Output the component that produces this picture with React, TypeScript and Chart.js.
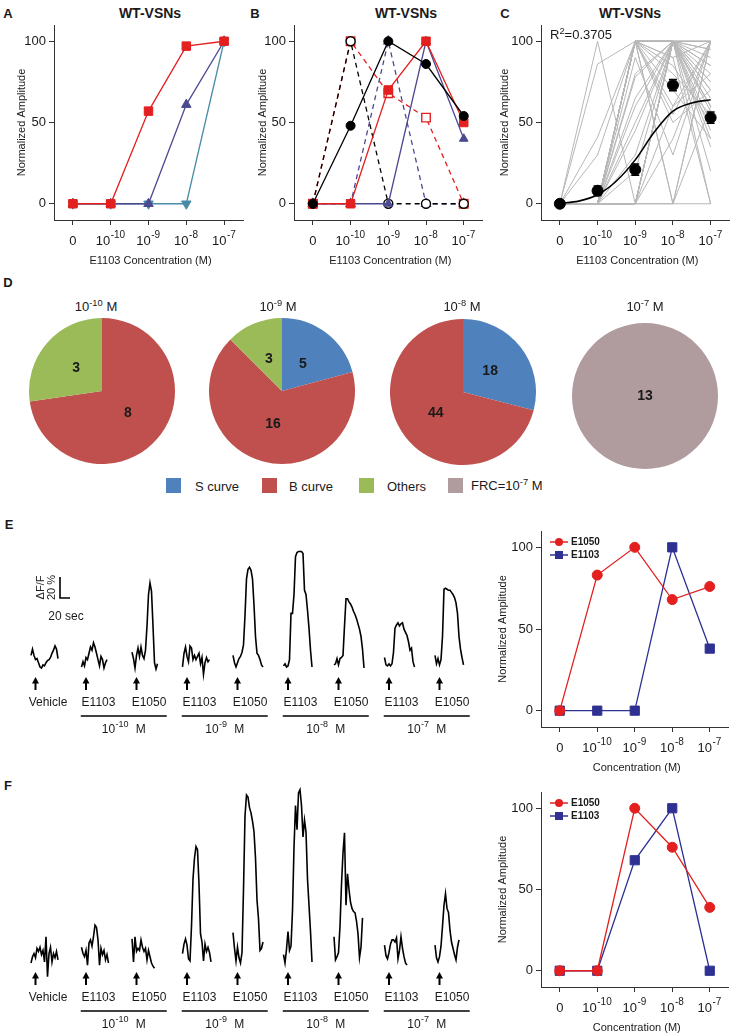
import React, { useEffect, useRef } from 'react';
import { Chart, registerables } from 'chart.js';

Chart.register(...registerables);

if (typeof document !== 'undefined') {
  document.body.style.margin = '0';
}

const FONT = '"Liberation Sans", Arial, Helvetica, sans-serif';
const INK = '#1a1a1a';
const AXIS = '#333333';

// ---------- shared concentration axis ----------
const CONC_IDX = [0, 1, 2, 3, 4];
const CONC_BASE = ['0', '10', '10', '10', '10'];
const CONC_EXP = ['', '-10', '-9', '-8', '-7'];
const Y_TICKS = [0, 50, 100];

// ---------- panel A ----------
const A_RED = [0, 0, 57, 97, 100];
const A_PURPLE = [0, 0, 0, 61, 100];
const A_TEAL = [0, 0, 0, 0, 100];

// ---------- panel B ----------
const B_BLACK_SOLID = [0, 48, 100, 86, 54];
const B_RED_SOLID = [0, 0, 70, 100, 50];
const B_NAVY_SOLID = [0, 0, 0, 100, 40];
const B_BLACK_DASH = [0, 100, 0, 0, 0];
const B_RED_DASH = [0, 100, 68, 53, 0];
const B_NAVY_DASH = [0, 0, 100, 0, 0];

// ---------- panel C ----------
const C_CELLS = [
  [0, 0, 100, 100, 100],
  [0, 0, 100, 100, 80],
  [0, 0, 100, 100, 60],
  [0, 0, 100, 100, 45],
  [0, 0, 100, 80, 55],
  [0, 0, 100, 60, 100],
  [0, 0, 100, 100, 0],
  [0, 0, 100, 0, 100],
  [0, 0, 100, 50, 70],
  [0, 0, 80, 100, 65],
  [0, 0, 78, 100, 95],
  [0, 0, 60, 100, 40],
  [0, 0, 50, 100, 85],
  [0, 0, 30, 100, 100],
  [0, 0, 0, 100, 70],
  [0, 0, 0, 100, 50],
  [0, 0, 0, 100, 35],
  [0, 0, 0, 100, 90],
  [0, 0, 0, 100, 100],
  [0, 0, 0, 100, 20],
  [0, 0, 0, 0, 100],
  [0, 0, 0, 40, 100],
  [0, 0, 0, 60, 80],
  [0, 100, 0, 100, 75],
  [0, 86, 100, 100, 60],
  [0, 41, 100, 85, 50],
  [0, 30, 100, 90, 0],
  [0, 0, 20, 100, 57],
  [0, 0, 100, 70, 40],
  [0, 0, 100, 90, 100],
  [0, 0, 65, 100, 75],
  [0, 0, 90, 30, 100],
  [0, 0, 100, 100, 85],
  [0, 0, 100, 0, 60],
  [0, 0, 45, 100, 100],
  [0, 0, 100, 55, 100],
  [0, 0, 100, 100, 95],
  [0, 0, 100, 100, 70],
  [0, 0, 0, 100, 60],
  [0, 0, 0, 0, 0],
];
const C_MEAN = [0, 8, 21, 73, 53];
const C_SEM = [0.8, 3, 3.5, 3.5, 3.5];
const C_FIT_X = [0, 0.5, 1, 1.5, 2, 2.5, 3, 3.5, 4];
const C_FIT_Y = [0.3, 1.6, 5.5, 14, 27, 44, 57, 62, 64];

// ---------- panel D ----------
const CAT_NAMES = ['S curve', 'B curve', 'Others', 'FRC'];
const CAT_COLORS = ['#4f81bd', '#c0504d', '#9bbb59', '#b09b9f'];
const PIE1_LABELS = ['B curve', 'Others'];
const PIE1_VALUES = [8, 3];
const PIE2_LABELS = ['S curve', 'B curve', 'Others'];
const PIE2_VALUES = [5, 16, 3];
const PIE3_LABELS = ['S curve', 'B curve'];
const PIE3_VALUES = [18, 44];
const PIE4_LABELS = ['FRC'];
const PIE4_VALUES = [13];
const PIE_TITLE_EXP = ['-10', '-9', '-8', '-7'];

// ---------- panels E / F : calcium traces (ΔF/F, %) sampled every 3 s ----------
const TRACE_NAMES = ['Vehicle', 'E1103', 'E1050', 'E1103', 'E1050', 'E1103', 'E1050', 'E1103', 'E1050'];
const GROUP_EXP = ['-10', '-9', '-8', '-7'];

const E_VEHICLE = [12, 18, 12, 8, 9, 5, 1, 0, 3, 2, 5, 7, 8, 10, 14, 17, 21, 18, 9];
const E_E1103_10 = [1, 6, 2, 10, 8, 14, 20, 17, 24, 20, 14, 8, 2, 11, 8, 0, 5, 8];
const E_E1050_10 = [15, 9, 0, 12, 19, 11, 20, 12, 9, 17, 40, 70, 81, 73, 40, 5, -1, 4];
const E_E1103_9 = [1, 14, 20, 11, 6, 21, 19, 8, 12, 8, 11, 14, 4, 10, -6, 5, 10, 6, 8];
const E_E1050_9 = [12, 5, 1, 5, 9, 11, 15, 22, 50, 85, 94, 96, 93, 85, 60, 30, 14, 12, 8, 3, 1];
const E_E1103_8 = [2, 4, 1, 2, 8, 52, 52, 70, 106, 110, 111, 111, 111, 109, 74, 70, 55, 38, 17, 1];
const E_E1050_8 = [3, 4, 9, 3, 9, 10, 12, 40, 66, 66, 63, 61, 58, 54, 51, 47, 42, 37, 30, 18, 0];
const E_E1103_7 = [10, 3, 2, 4, 2, 4, 15, 38, 41, 43, 40, 42, 43, 37, 34, 31, 25, 17, 19, 6, 1];
const E_E1050_7 = [12, 4, 9, 3, 8, 30, 75, 76, 75, 74, 74, 72, 70, 67, 62, 52, 30, 18, 10, 3];

const F_VEHICLE = [0, 6, 9, 5, 14, 11, 15, 8, 12, 1, 25, -13, 9, 15, 1, 9, 5, 11, 3];
const F_E1103_10 = [15, 9, 6, 12, -2, 19, 22, 16, 25, 36, 34, 22, -2, 14, 8, 12, 3, 8, 0];
const F_E1050_10 = [23, 1, 25, 11, 14, 12, 22, 15, 11, 14, 3, 12, 6, 0, -3, -5];
const F_E1103_9 = [9, 18, 23, 17, 4, 2, 35, 80, 100, 111, 108, 75, 28, 20, 2, 18, 11, 15, 10, 1];
const F_E1050_9 = [29, 14, 2, 15, 5, 0, 10, 70, 140, 160, 158, 148, 143, 135, 125, 100, 60, 42, 12, 14, 20];
const F_E1103_8 = [8, 0, 13, 30, 12, 16, 50, 110, 150, 127, 162, 165, 150, 120, 136, 125, 80, 55, 30, 1];
const F_E1050_8 = [25, 3, 6, 10, 35, 75, 105, 124, 55, 85, 70, 58, 52, 49, 48, 40, 28, 5, 15, 43];
const F_E1103_7 = [17, 7, 4, 10, 18, 22, 22, 20, 24, 4, 12, 25, 14, 6, 0, -2];
const F_E1050_7 = [17, 5, 1, 6, 16, 35, 55, 66, 52, 48, 31, 20, 14, 8, 3, 15, 22];

const E_TRACES = [E_VEHICLE, E_E1103_10, E_E1050_10, E_E1103_9, E_E1050_9, E_E1103_8, E_E1050_8, E_E1103_7, E_E1050_7];
const F_TRACES = [F_VEHICLE, F_E1103_10, F_E1050_10, F_E1103_9, F_E1050_9, F_E1103_8, F_E1050_8, F_E1103_7, F_E1050_7];

// ---------- panels E / F : normalized amplitude ----------
const E_AMP_E1050 = [0, 83, 100, 68, 76];
const E_AMP_E1103 = [0, 0, 0, 100, 38];
const F_AMP_E1050 = [0, 0, 100, 76, 39];
const F_AMP_E1103 = [0, 0, 68, 100, 0];

// trace timing (s)
const TRACE_T0 = 62;
const TRACE_SLOT = 101;
const TRACE_DT = 3;
const ARROW_T = 9;
const LABEL_T = 34;

// ---------- colours ----------
const RED = '#e3201f';
const PURPLE = '#4b4990';
const TEAL = '#4a8ca8';
const NAVY = '#2e3192';
const GRAY = '#b7b7b7';

// ---------- drawing helpers ----------
function drawPower(ctx: any, base: string, exp: string, suffix: string, x: number, y: number, size: number, expSize: number, align: string) {
  ctx.save();
  ctx.fillStyle = INK;
  ctx.textBaseline = 'middle';
  ctx.textAlign = 'left';
  const f1 = `${size}px ${FONT}`;
  const f2 = `${expSize}px ${FONT}`;
  ctx.font = f1;
  const wb = ctx.measureText(base).width;
  const ws = suffix ? ctx.measureText(suffix).width : 0;
  ctx.font = f2;
  const we = exp ? ctx.measureText(exp).width + 1 : 0;
  const total = wb + we + ws;
  const x0 = align === 'center' ? x - total / 2 : x;
  ctx.font = f1;
  ctx.fillText(base, x0, y);
  if (exp) {
    ctx.font = f2;
    ctx.fillText(exp, x0 + wb + 0.5, y - size * 0.42);
  }
  if (suffix) {
    ctx.font = f1;
    ctx.fillText(suffix, x0 + wb + we, y);
  }
  ctx.restore();
}

const axisTextPlugin = {
  id: 'axisText',
  afterDraw(chart: any, _a: any, opts: any) {
    const { ctx, chartArea: a, scales } = chart;
    const xs = scales.x;
    CONC_IDX.forEach((v, i) =>
      drawPower(ctx, CONC_BASE[i], CONC_EXP[i], '', xs.getPixelForValue(v), a.bottom + 21, 13, 10, 'center')
    );
    ctx.save();
    ctx.fillStyle = INK;
    ctx.font = `11px ${FONT}`;
    ctx.textAlign = 'center';
    ctx.textBaseline = 'middle';
    ctx.fillText(opts.xTitle, (a.left + a.right) / 2 + 2, a.bottom + 41);
    ctx.translate(a.left - opts.yTitleOffset, (a.top + a.bottom) / 2);
    ctx.rotate(-Math.PI / 2);
    ctx.fillText('Normalized Amplitude', 0, 0);
    ctx.restore();
  },
};

const errorBarPlugin = {
  id: 'errorBars',
  afterDatasetsDraw(chart: any, _a: any, opts: any) {
    if (!opts || !opts.mean) return;
    const { ctx, scales } = chart;
    ctx.save();
    ctx.strokeStyle = '#000';
    ctx.lineWidth = 1.4;
    opts.mean.forEach((m: number, i: number) => {
      const e = opts.sem[i];
      if (!e || e < 1) return;
      const px = scales.x.getPixelForValue(CONC_IDX[i]);
      const y1 = scales.y.getPixelForValue(m + e);
      const y2 = scales.y.getPixelForValue(m - e);
      ctx.beginPath();
      ctx.moveTo(px, y1); ctx.lineTo(px, y2);
      ctx.moveTo(px - 4, y1); ctx.lineTo(px + 4, y1);
      ctx.moveTo(px - 4, y2); ctx.lineTo(px + 4, y2);
      ctx.stroke();
    });
    ctx.restore();
  },
};

const seriesLegendPlugin = {
  id: 'seriesLegend',
  afterDraw(chart: any, _a: any, opts: any) {
    if (!opts || !opts.show) return;
    const { ctx, chartArea: a } = chart;
    chart.data.datasets.forEach((ds: any, i: number) => {
      const y = a.top + 11 + 13 * i;
      const x0 = a.left + 9;
      const x1 = a.left + 27;
      const xm = (x0 + x1) / 2;
      ctx.save();
      ctx.strokeStyle = ds.borderColor;
      ctx.lineWidth = 1.5;
      ctx.beginPath(); ctx.moveTo(x0, y); ctx.lineTo(x1, y); ctx.stroke();
      ctx.fillStyle = ds.pointBackgroundColor;
      if (ds.pointStyle === 'rect') ctx.fillRect(xm - 4, y - 4, 8, 8);
      else { ctx.beginPath(); ctx.arc(xm, y, 4, 0, Math.PI * 2); ctx.fill(); }
      ctx.font = `bold 10px ${FONT}`;
      ctx.fillStyle = INK;
      ctx.textBaseline = 'middle';
      ctx.textAlign = 'left';
      ctx.fillText(ds.label, x1 + 3, y);
      ctx.restore();
    });
  },
};

function series(values: number[], o: any) {
  return {
    label: o.label || '',
    data: values.map((v, i) => ({ x: CONC_IDX[i], y: v })),
    borderColor: o.color,
    borderWidth: o.lw ?? 1.3,
    borderDash: o.dash ?? [],
    pointStyle: o.style ?? 'circle',
    pointRadius: o.r ?? 4.5,
    pointRotation: o.rot ?? 0,
    pointBackgroundColor: o.open ? '#ffffff' : o.color,
    pointBorderColor: o.color,
    pointBorderWidth: o.open ? 1.4 : 1,
    showLine: o.showLine ?? true,
    tension: 0,
    fill: false,
  };
}

function lineConfig(datasets: any[], o: any) {
  const grid = { display: true, drawOnChartArea: false, drawTicks: true, tickLength: 5, color: AXIS, lineWidth: 1 };
  const border = { display: true, color: AXIS, width: 1 };
  return {
    type: 'line',
    data: { datasets },
    options: {
      animation: false,
      responsive: false,
      devicePixelRatio: 1,
      events: [],
      layout: { padding: { top: o.padTop, left: 0, right: 0, bottom: 0 } },
      plugins: {
        legend: { display: false },
        tooltip: { enabled: false },
        axisText: { xTitle: o.xTitle, yTitleOffset: o.yTitleOffset },
        errorBars: o.errorBars || {},
        seriesLegend: { show: !!o.legend },
      },
      scales: {
        x: {
          type: 'linear', min: -0.5, max: 4.5,
          afterBuildTicks: (s: any) => { s.ticks = CONC_IDX.map((v) => ({ value: v })); },
          afterFit: (s: any) => { s.height = o.xAxisH; },
          ticks: { display: false },
          grid, border,
        },
        y: {
          type: 'linear', min: -10, max: 110,
          afterBuildTicks: (s: any) => { s.ticks = Y_TICKS.map((v) => ({ value: v })); },
          afterFit: (s: any) => { s.width = 54; },
          ticks: { font: { family: FONT, size: 13 }, color: INK, padding: 3 },
          grid, border,
        },
      },
    },
    plugins: [axisTextPlugin, errorBarPlugin, seriesLegendPlugin],
  };
}

// pies
const pieLabelPlugin = {
  id: 'pieLabels',
  afterDatasetsDraw(chart: any) {
    const { ctx } = chart;
    const meta = chart.getDatasetMeta(0);
    const vals = chart.data.datasets[0].data;
    meta.data.forEach((arc: any, i: number) => {
      const p = arc.getProps(['x', 'y', 'startAngle', 'endAngle', 'outerRadius']);
      let lx = p.x;
      let ly = p.y;
      if (p.endAngle - p.startAngle < Math.PI * 2 - 1e-3) {
        const mid = (p.startAngle + p.endAngle) / 2;
        lx = p.x + Math.cos(mid) * p.outerRadius * 0.47;
        ly = p.y + Math.sin(mid) * p.outerRadius * 0.47;
      }
      ctx.save();
      ctx.fillStyle = INK;
      ctx.font = `bold 14px ${FONT}`;
      ctx.textAlign = 'center';
      ctx.textBaseline = 'middle';
      ctx.fillText(String(vals[i]), lx, ly);
      ctx.restore();
    });
  },
};

function pieConfig(labels: string[], values: number[]) {
  return {
    type: 'pie',
    data: {
      labels,
      datasets: [{
        data: values,
        backgroundColor: labels.map((l) => CAT_COLORS[CAT_NAMES.indexOf(l)]),
        borderWidth: 0,
      }],
    },
    options: {
      animation: false,
      responsive: false,
      devicePixelRatio: 1,
      events: [],
      layout: { padding: 2 },
      plugins: { legend: { display: false }, tooltip: { enabled: false } },
    },
    plugins: [pieLabelPlugin],
  };
}

// traces
function drawArrow(ctx: any, x: number, yTip: number, yTail: number) {
  ctx.save();
  ctx.fillStyle = '#000';
  ctx.strokeStyle = '#000';
  ctx.lineWidth = 2;
  ctx.beginPath(); ctx.moveTo(x, yTip + 4); ctx.lineTo(x, yTail); ctx.stroke();
  ctx.beginPath(); ctx.moveTo(x, yTip); ctx.lineTo(x - 3.5, yTip + 6.5); ctx.lineTo(x + 3.5, yTip + 6.5); ctx.closePath(); ctx.fill();
  ctx.restore();
}

const traceDecoPlugin = {
  id: 'traceDeco',
  afterDraw(chart: any, _a: any, opts: any) {
    const { ctx, scales } = chart;
    const xs = scales.x;
    const ys = scales.y;
    const base = ys.getPixelForValue(0);
    const slotX = (k: number, t: number) => xs.getPixelForValue(TRACE_T0 + k * TRACE_SLOT + t);
    ctx.save();
    ctx.fillStyle = INK;
    ctx.font = `12px ${FONT}`;
    ctx.textAlign = 'center';
    ctx.textBaseline = 'middle';
    TRACE_NAMES.forEach((name, k) => {
      drawArrow(ctx, slotX(k, ARROW_T), base + 9, base + 22);
      ctx.fillText(name, slotX(k, LABEL_T), base + 35);
    });
    ctx.strokeStyle = '#000';
    ctx.lineWidth = 1.3;
    GROUP_EXP.forEach((exp, g) => {
      const c = (slotX(2 * g + 1, LABEL_T) + slotX(2 * g + 2, LABEL_T)) / 2;
      ctx.beginPath(); ctx.moveTo(c - 43, base + 48); ctx.lineTo(c + 43, base + 48); ctx.stroke();
      drawPower(ctx, '10', exp, '  M', c, base + 62, 12, 9, 'center');
    });
    if (opts.scaleBar) {
      const bx = 60;
      const by = base - 70;
      const h = ys.getPixelForValue(0) - ys.getPixelForValue(20);
      const w = xs.getPixelForValue(20) - xs.getPixelForValue(0);
      ctx.lineWidth = 1.6;
      ctx.beginPath(); ctx.moveTo(bx, by - h); ctx.lineTo(bx, by); ctx.lineTo(bx + w, by); ctx.stroke();
      ctx.font = `12px ${FONT}`;
      ctx.fillText('20 sec', bx + 6, base - 51);
      ctx.save();
      ctx.font = `11px ${FONT}`;
      ctx.translate(41, by - h / 2);
      ctx.rotate(-Math.PI / 2);
      ctx.fillText('\u0394F/F', 0, 0);
      ctx.restore();
      ctx.save();
      ctx.font = `11px ${FONT}`;
      ctx.translate(52, by - h / 2);
      ctx.rotate(-Math.PI / 2);
      ctx.fillText('20 %', 0, 0);
      ctx.restore();
    }
    ctx.restore();
  },
};

const TRACE_PX_PER_UNIT = 1.05;
function traceConfig(traces: number[][], scaleBar: boolean, height: number) {
  const datasets = traces.map((vals, k) => ({
    data: vals.map((v, i) => ({ x: TRACE_T0 + k * TRACE_SLOT + i * TRACE_DT, y: v })),
    borderColor: '#000',
    borderWidth: 1.6,
    pointRadius: 0,
    tension: 0,
    fill: false,
  }));
  return {
    type: 'line',
    data: { datasets },
    options: {
      animation: false,
      responsive: false,
      devicePixelRatio: 1,
      events: [],
      layout: { padding: 0 },
      plugins: { legend: { display: false }, tooltip: { enabled: false }, traceDeco: { scaleBar } },
      scales: {
        x: { type: 'linear', display: false, min: 0, max: 960 },
        y: { type: 'linear', display: false, min: -(height - 190) / TRACE_PX_PER_UNIT, max: 190 / TRACE_PX_PER_UNIT },
      },
    },
    plugins: [traceDecoPlugin],
  };
}

// ---------- React pieces ----------
function ChartBox({ left, top, width, height, make }: any) {
  const ref = useRef<HTMLCanvasElement>(null);
  useEffect(() => {
    const chart = new Chart(ref.current as any, make());
    return () => chart.destroy();
  }, []);
  return (
    <canvas
      ref={ref}
      width={width}
      height={height}
      style={{ position: 'absolute', left, top, width, height }}
    />
  );
}

function T({ x, y, children, size = 13, bold = false, anchor = 'center' }: any) {
  const tx = anchor === 'center' ? '-50%' : anchor === 'right' ? '-100%' : '0';
  return (
    <div
      style={{
        position: 'absolute', left: x, top: y, transform: `translate(${tx},-50%)`,
        font: `${bold ? 'bold ' : ''}${size}px ${FONT}`, color: INK, whiteSpace: 'nowrap', lineHeight: 1,
      }}
    >
      {children}
    </div>
  );
}

function Sup({ children }: any) {
  return <span style={{ fontSize: '0.72em', position: 'relative', top: '-0.5em' }}>{children}</span>;
}

export default function App() {
  const pies = [
    { labels: PIE1_LABELS, values: PIE1_VALUES, cx: 102, cy: 391 },
    { labels: PIE2_LABELS, values: PIE2_VALUES, cx: 282, cy: 391 },
    { labels: PIE3_LABELS, values: PIE3_VALUES, cx: 463, cy: 392 },
    { labels: PIE4_LABELS, values: PIE4_VALUES, cx: 645, cy: 396 },
  ];
  const pieTitleX = [96, 278, 462, 645];
  const legendSq = [166, 262, 359, 448];
  const legendTx = [195, 289, 387, 471];

  return (
    <div style={{ position: 'relative', width: 738, height: 1036, overflow: 'hidden', background: '#fff' }}>
      {/* Panel letters and titles */}
      <T x={8} y={13} bold>A</T>
      <T x={255} y={13} bold>B</T>
      <T x={505} y={13} bold>C</T>
      <T x={8} y={282} bold>D</T>
      <T x={9} y={524} bold>E</T>
      <T x={8} y={785} bold>F</T>
      <T x={150} y={13} bold size={14}>WT-VSNs</T>
      <T x={406} y={13} bold size={14}>WT-VSNs</T>
      <T x={630} y={13} bold size={14}>WT-VSNs</T>

      {/* Panel A */}
      <ChartBox left={0} top={0} width={250} height={275} make={() => lineConfig([
        series(A_RED, { color: RED, style: 'rect', r: 6 }),
        series(A_PURPLE, { color: PURPLE, style: 'triangle', r: 5.5 }),
        series(A_TEAL, { color: TEAL, style: 'triangle', r: 5.5, rot: 180 }),
      ], { padTop: 25, xAxisH: 55, xTitle: 'E1103 Concentration (M)', yTitleOffset: 32 })} />

      {/* Panel B */}
      <ChartBox left={240} top={0} width={250} height={275} make={() => lineConfig([
        series(B_BLACK_SOLID, { color: '#000', style: 'circle', r: 4.5 }),
        series(B_RED_SOLID, { color: RED, style: 'rect', r: 6 }),
        series(B_NAVY_SOLID, { color: PURPLE, style: 'triangle', r: 5 }),
        series(B_BLACK_DASH, { color: '#000', style: 'circle', r: 4.5, open: true, dash: [5, 4] }),
        series(B_RED_DASH, { color: RED, style: 'rect', r: 6, open: true, dash: [5, 4] }),
        series(B_NAVY_DASH, { color: PURPLE, style: 'triangle', r: 5, open: true, dash: [5, 4] }),
      ], { padTop: 25, xAxisH: 55, xTitle: 'E1103 Concentration (M)', yTitleOffset: 31 })} />

      {/* Panel C */}
      <ChartBox left={487} top={0} width={249} height={275} make={() => lineConfig([
        series(C_MEAN, { color: '#000', style: 'circle', r: 5.5, showLine: false }),
        {
          data: C_FIT_X.map((x, i) => ({ x, y: C_FIT_Y[i] })),
          borderColor: '#000', borderWidth: 1.6, pointRadius: 0, cubicInterpolationMode: 'monotone', fill: false,
        },
        ...C_CELLS.map((row) => series(row, { color: GRAY, r: 0, lw: 1 })),
      ], { padTop: 25, xAxisH: 55, xTitle: 'E1103 Concentration (M)', yTitleOffset: 36, errorBars: { mean: C_MEAN, sem: C_SEM } })} />
      <T x={550} y={35} anchor="left">R<Sup>2</Sup>=0.3705</T>

      {/* Panel D */}
      {pies.map((p, i) => (
        <ChartBox key={'pie' + i} left={p.cx - 75} top={p.cy - 75} width={150} height={150}
          make={() => pieConfig(p.labels, p.values)} />
      ))}
      {PIE_TITLE_EXP.map((e, i) => (
        <T key={'pt' + i} x={pieTitleX[i]} y={307}>10<Sup>{e}</Sup> M</T>
      ))}
      {CAT_NAMES.map((n, i) => (
        <React.Fragment key={'lg' + i}>
          <div style={{ position: 'absolute', left: legendSq[i], top: 478, width: 15, height: 15, background: CAT_COLORS[i] }} />
          <T x={legendTx[i]} y={486} anchor="left">
            {n === 'FRC' ? <>FRC=10<Sup>-7</Sup> M</> : n}
          </T>
        </React.Fragment>
      ))}

      {/* Panel E */}
      <ChartBox left={0} top={478} width={480} height={262} make={() => traceConfig(E_TRACES, true, 262)} />
      <ChartBox left={487} top={505} width={249} height={275} make={() => lineConfig([
        series(E_AMP_E1050, { label: 'E1050', color: RED, style: 'circle', r: 5 }),
        series(E_AMP_E1103, { label: 'E1103', color: NAVY, style: 'rect', r: 6.5 }),
      ], { padTop: 26, xAxisH: 53, xTitle: 'Concentration (M)', yTitleOffset: 38, legend: true })} />

      {/* Panel F */}
      <ChartBox left={0} top={773} width={480} height={262} make={() => traceConfig(F_TRACES, false, 262)} />
      <ChartBox left={487} top={766} width={249} height={270} make={() => lineConfig([
        series(F_AMP_E1050, { label: 'E1050', color: RED, style: 'circle', r: 5 }),
        series(F_AMP_E1103, { label: 'E1103', color: NAVY, style: 'rect', r: 6.5 }),
      ], { padTop: 26, xAxisH: 49, xTitle: 'Concentration (M)', yTitleOffset: 38, legend: true })} />
    </div>
  );
}
